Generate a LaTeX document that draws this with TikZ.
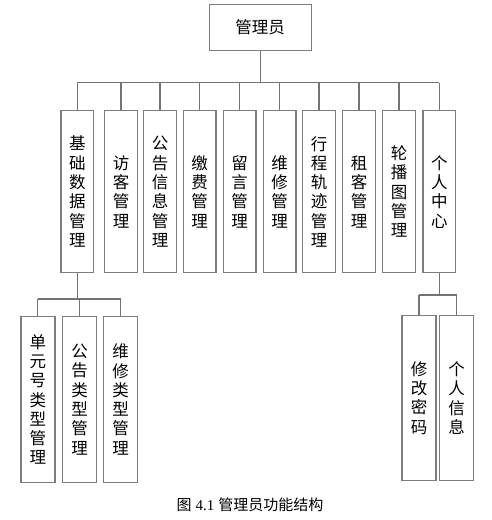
\documentclass[tikz,border=0pt]{standalone}
\usepackage{fontspec}
\newfontfamily\cjk{Noto Sans CJK SC}
\newfontfamily\capser{Liberation Serif}
\definecolor{boxgray}{RGB}{125,125,125}
\definecolor{linegray}{RGB}{115,115,115}
\begin{document}
\begin{tikzpicture}[x=1pt,y=-1pt,
  box/.style={draw=boxgray, line width=1.4pt, fill=white, inner sep=0pt, align=center,
    font=\cjk\fontsize{16.5}{19.3}\selectfont},
  rowbox/.style={box, minimum width=32.5pt, minimum height=162pt},
  subbox/.style={box, minimum width=34pt, minimum height=165.5pt},
  link/.style={draw=linegray, line width=1.1pt}]
\useasboundingbox (0,0) rectangle (491,520);
\node[box, minimum width=102pt, minimum height=46pt] (top) at (260.2,27.3) {管理员};
% second row
\node[rowbox] (b1) at (77.3,191.7) {基\\础\\数\\据\\管\\理};
\node[rowbox] (b2) at (121,191.7) {访\\客\\管\\理};
\node[rowbox] (b3) at (160,191.7) {公\\告\\信\\息\\管\\理};
\node[rowbox] (b4) at (199.7,191.7) {缴\\费\\管\\理};
\node[rowbox] (b5) at (239.7,191.7) {留\\言\\管\\理};
\node[rowbox] (b6) at (279.7,191.7) {维\\修\\管\\理};
\node[rowbox] (b7) at (319,191.7) {行\\程\\轨\\迹\\管\\理};
\node[rowbox] (b8) at (359,191.7) {租\\客\\管\\理};
\node[rowbox] (b9) at (399,191.7) {轮\\播\\图\\管\\理};
\node[rowbox] (b10) at (439.3,191.7) {个\\人\\中\\心};
% third row left
\node[subbox] (s1) at (37.8,399.5) {单\\元\\号\\类\\型\\管\\理};
\node[subbox] (s2) at (79.5,399.5) {公\\告\\类\\型\\管\\理};
\node[subbox] (s3) at (120.5,399.5) {维\\修\\类\\型\\管\\理};
% third row right
\node[subbox] (r1) at (419,398) {修\\改\\密\\码};
\node[subbox] (r2) at (456.7,398) {个\\人\\信\\息};
% connectors
\coordinate (bus) at (0,82.7);
\coordinate (busL) at (0,299);
\coordinate (busR) at (0,295);
\draw[link] (top.south) -- (top.south |- bus);
\draw[link] (b1.north |- bus) -- (b10.north |- bus);
\foreach \n in {b1,b2,b3,b4,b5,b6,b7,b8,b9,b10}
  \draw[link] (\n.north |- bus) -- (\n.north);
\draw[link] (b1.south) -- (b1.south |- busL);
\draw[link] (s1.north |- busL) -- (s3.north |- busL);
\foreach \n in {s1,s2,s3}
  \draw[link] (\n.north |- busL) -- (\n.north);
\draw[link] (b10.south) -- (b10.south |- busR);
\draw[link] (r1.north |- busR) -- (r2.north |- busR);
\foreach \n in {r1,r2}
  \draw[link] (\n.north |- busR) -- (\n.north);
% caption
\node[inner sep=0pt, font=\cjk\fontsize{15}{17}\selectfont] (cap) at (250,504.5)
  {图\hspace{4pt}{\capser 4.1}\hspace{4pt}管理员功能结构};
\end{tikzpicture}
\end{document}
